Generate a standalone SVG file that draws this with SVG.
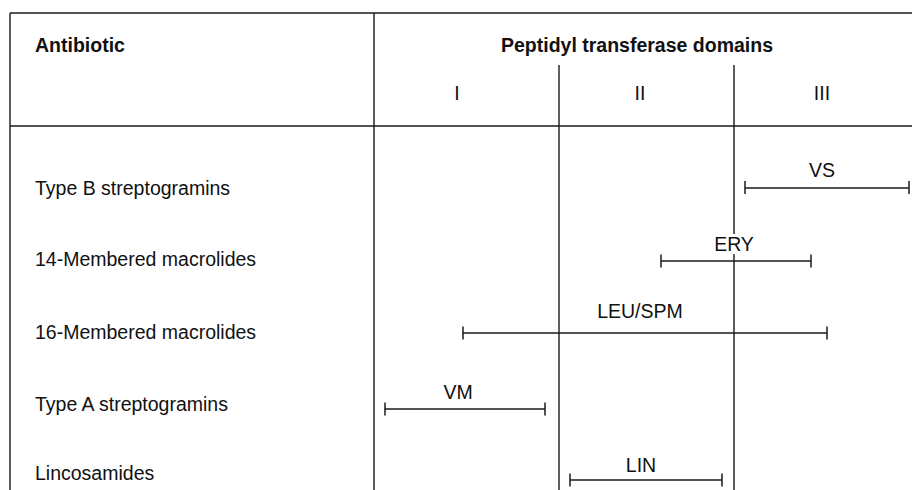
<svg xmlns="http://www.w3.org/2000/svg" width="912" height="490" viewBox="0 0 912 490">
<style>
  text { font-family: "Liberation Sans", Arial, Helvetica, sans-serif; font-size: 19.5px; fill: #111; }
  .b { font-weight: bold; }
  .m { text-anchor: middle; }
  .grid line { stroke: #1a1a1a; stroke-width: 1.4; }
  .bar line { stroke: #1a1a1a; stroke-width: 1.5; }
</style>
<rect width="912" height="490" fill="#fff"/>
<g id="grid" class="grid">
  <line x1="10" y1="13" x2="912" y2="13"/>
  <line x1="10" y1="13" x2="10" y2="490"/>
  <line x1="374" y1="13" x2="374" y2="490"/>
  <line x1="10" y1="126" x2="912" y2="126"/>
  <line x1="559" y1="65" x2="559" y2="490"/>
  <line x1="734" y1="65" x2="734" y2="234"/>
  <line x1="734" y1="254" x2="734" y2="490"/>
</g>
<g id="header">
  <text class="b" x="35" y="52">Antibiotic</text>
  <text class="b m" x="637" y="52">Peptidyl transferase domains</text>
  <text class="m" x="457" y="100">I</text>
  <text class="m" x="640" y="100">II</text>
  <text class="m" x="822" y="100">III</text>
</g>
<g id="row-labels">
  <text x="35" y="194.5">Type B streptogramins</text>
  <text x="35" y="266">14-Membered macrolides</text>
  <text x="35" y="338.5">16-Membered macrolides</text>
  <text x="35" y="411">Type A streptogramins</text>
  <text x="35" y="480">Lincosamides</text>
</g>
<g id="connectors">
  <g id="bar-VS" class="bar">
    <line x1="745" y1="188" x2="909" y2="188"/>
    <line x1="745" y1="181" x2="745" y2="194"/>
    <line x1="909" y1="181" x2="909" y2="194"/>
    <text class="m" x="822" y="177">VS</text>
  </g>
  <g id="bar-ERY" class="bar">
    <line x1="661" y1="261" x2="811" y2="261"/>
    <line x1="661" y1="254.5" x2="661" y2="267.5"/>
    <line x1="811" y1="254.5" x2="811" y2="267.5"/>
    <text class="m" x="734" y="251">ERY</text>
  </g>
  <g id="bar-LEU-SPM" class="bar">
    <line x1="463" y1="333" x2="827" y2="333"/>
    <line x1="463" y1="326.5" x2="463" y2="339.5"/>
    <line x1="827" y1="326.5" x2="827" y2="339.5"/>
    <text class="m" x="640" y="318">LEU/SPM</text>
  </g>
  <g id="bar-VM" class="bar">
    <line x1="385" y1="409" x2="545" y2="409"/>
    <line x1="385" y1="402.5" x2="385" y2="415.5"/>
    <line x1="545" y1="402.5" x2="545" y2="415.5"/>
    <text class="m" x="458" y="398.5">VM</text>
  </g>
  <g id="bar-LIN" class="bar">
    <line x1="570" y1="480" x2="722" y2="480"/>
    <line x1="570" y1="473.5" x2="570" y2="486.5"/>
    <line x1="722" y1="473.5" x2="722" y2="486.5"/>
    <text class="m" x="641" y="472">LIN</text>
  </g>
</g>
</svg>
